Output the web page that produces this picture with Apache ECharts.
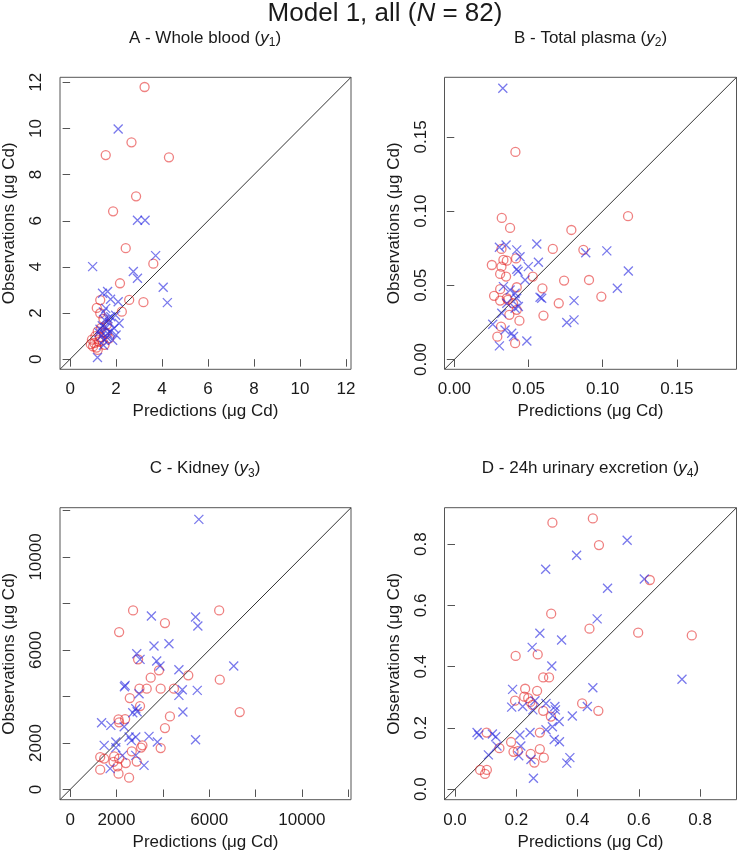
<!DOCTYPE html>
<html><head><meta charset="utf-8">
<script src="https://cdn.jsdelivr.net/npm/echarts@6/dist/echarts.min.js"></script>
<style>html,body{margin:0;padding:0;background:#fff}#c{width:738px;height:853px}</style>
</head><body><div id="c"></div>
<script>
// ---- text ----
const mainTitle = ['Model 1, all (', 'N', ' = 82)'];
const panelTitles = [
  ['A - Whole blood (', 'y', '1', ')'],
  ['B - Total plasma (', 'y', '2', ')'],
  ['C - Kidney (', 'y', '3', ')'],
  ['D - 24h urinary excretion (', 'y', '4', ')']
];
const xLabel = 'Predictions (\u03BCg Cd)';
const yLabel = 'Observations (\u03BCg Cd)';

// ---- axis limits and ticks ----
const limA = [-0.44, 12.22];
const limB = [-0.0066, 0.1902];
const limC = [-440, 12120];
const limD = [-0.0343, 0.919];
const ticksA = [0, 2, 4, 6, 8, 10, 12];
const labelsA = [0, 2, 4, 6, 8, 10, 12];
const ticksB = [0, 0.05, 0.10, 0.15];
const labelsB = [0, 0.05, 0.10, 0.15];
const ticksC = [0, 2000, 4000, 6000, 8000, 10000, 12000];
const labelsC = [0, 2000, 6000, 10000];
const ticksD = [0, 0.2, 0.4, 0.6, 0.8];
const labelsD = [0, 0.2, 0.4, 0.6, 0.8];

// ---- data: [prediction, observation] ----
const aRed = [[3.24,11.8],[2.67,9.4],[1.55,8.85],[4.3,8.75],[2.87,7.06],[1.87,6.41],[2.42,4.81],[3.62,4.14],[2.17,3.29],[2.57,2.57],[3.19,2.47],[1.31,2.56],[1.16,2.22],[1.31,1.99],[2.25,2.06],[1.45,1.75],[1.6,1.5],[1.35,1.35],[1.2,1.2],[1.5,1.15],[1.1,1.0],[1.3,0.95],[0.95,0.85],[1.05,0.7],[1.25,0.75],[1.4,0.8],[1.0,0.55],[1.15,0.5],[1.5,0.62],[1.7,0.9],[0.9,0.65],[1.2,0.4],[1.6,1.1]];
const aBlue = [[2.09,9.98],[2.93,6.02],[3.26,6.02],[3.72,4.49],[0.98,4.01],[2.75,3.80],[2.93,3.51],[4.05,3.12],[4.23,2.45],[1.41,2.86],[1.63,2.93],[1.76,2.6],[2.09,2.49],[1.45,2.05],[1.77,1.84],[1.98,1.9],[2.13,1.56],[1.91,1.34],[1.63,1.12],[1.85,0.82],[1.48,0.82],[1.35,1.0],[1.55,1.35],[1.7,1.6],[1.4,1.45],[1.25,1.15],[1.6,0.95],[1.5,1.7],[1.3,1.3],[1.19,0.07],[1.75,1.2],[1.45,0.6],[1.55,2.2],[2.0,1.05],[1.65,1.75]];
const bRed = [[0.0412,0.1399],[0.0320,0.0954],[0.0376,0.0887],[0.0789,0.0873],[0.1171,0.0966],[0.0664,0.0745],[0.0870,0.0739],[0.0318,0.0745],[0.0331,0.0671],[0.0354,0.0666],[0.0416,0.0681],[0.0253,0.0637],[0.0318,0.0626],[0.0309,0.0577],[0.0349,0.0559],[0.0529,0.0559],[0.0740,0.0532],[0.0908,0.0536],[0.0594,0.0480],[0.0309,0.0474],[0.0421,0.0487],[0.0268,0.0429],[0.0309,0.0397],[0.0354,0.0413],[0.0361,0.0402],[0.0991,0.0424],[0.0704,0.0379],[0.0421,0.0335],[0.0371,0.0301],[0.0601,0.0296],[0.0439,0.0262],[0.0315,0.0222],[0.0290,0.0154],[0.0410,0.0110],[0.0396,0.0379]];
const bBlue = [[0.0327,0.1828],[0.0304,0.0757],[0.0349,0.0772],[0.0421,0.0739],[0.0556,0.0779],[0.0443,0.0693],[0.0567,0.0656],[0.0499,0.0626],[0.0421,0.0608],[0.0430,0.0595],[0.0886,0.0720],[0.1028,0.0732],[0.1173,0.0597],[0.1099,0.0480],[0.0477,0.0536],[0.0578,0.0420],[0.0807,0.0397],[0.0758,0.0249],[0.0807,0.0267],[0.0489,0.0125],[0.0304,0.0092],[0.0259,0.0238],[0.0320,0.0312],[0.0387,0.0177],[0.0399,0.0155],[0.0410,0.0346],[0.0432,0.0357],[0.0376,0.0469],[0.0410,0.0447],[0.0354,0.0379],[0.0342,0.0199],[0.0421,0.0413],[0.0331,0.0491],[0.0589,0.0413]];
const cRed = [[2714,7703],[6430,7703],[4090,7157],[2112,6770],[2930,5596],[3832,5123],[3475,4809],[5097,4908],[6456,4723],[2989,4335],[3303,4335],[3905,4335],[4477,4335],[2572,3931],[3015,3587],[7316,3329],[4305,3144],[2086,3015],[2370,3029],[2112,2890],[4090,2641],[3118,1897],[3058,1800],[3905,1781],[2658,1639],[1295,1394],[1467,1330],[1897,1420],[2112,1330],[1870,1187],[2400,1136],[2872,1200],[2043,994],[1295,852],[2086,680],[2542,508]];
const cBlue = [[5553,11617],[3505,7458],[5411,7415],[5510,7028],[3617,6168],[4262,6271],[2873,5841],[3015,5596],[3733,5523],[3875,5308],[7058,5308],[4692,5153],[2370,4477],[2340,4420],[4839,4292],[5484,4262],[4692,4047],[2972,4120],[2830,3475],[2890,3340],[2700,3300],[4865,3329],[1355,2873],[1755,2757],[2330,2700],[2542,2254],[2830,2254],[3402,2284],[3763,2039],[5411,2142],[1467,1897],[1970,2039],[2258,1467],[2830,1467],[3187,1037],[1725,895],[2640,2100],[1970,1800]];
const dRed = [[0.450,0.884],[0.318,0.870],[0.470,0.797],[0.636,0.683],[0.314,0.573],[0.439,0.524],[0.598,0.511],[0.773,0.502],[0.198,0.435],[0.270,0.440],[0.288,0.365],[0.307,0.365],[0.229,0.328],[0.268,0.321],[0.226,0.302],[0.239,0.297],[0.196,0.289],[0.246,0.285],[0.253,0.275],[0.415,0.280],[0.468,0.256],[0.288,0.256],[0.313,0.237],[0.103,0.185],[0.277,0.185],[0.183,0.154],[0.145,0.134],[0.191,0.122],[0.205,0.124],[0.277,0.131],[0.247,0.115],[0.290,0.103],[0.259,0.087],[0.082,0.063],[0.104,0.063],[0.098,0.050]];
const dBlue = [[0.562,0.813],[0.397,0.764],[0.296,0.718],[0.618,0.686],[0.498,0.656],[0.464,0.556],[0.277,0.509],[0.348,0.487],[0.252,0.463],[0.316,0.402],[0.741,0.359],[0.450,0.331],[0.188,0.326],[0.185,0.268],[0.221,0.270],[0.261,0.289],[0.297,0.280],[0.326,0.270],[0.328,0.259],[0.432,0.270],[0.254,0.259],[0.319,0.240],[0.383,0.239],[0.340,0.221],[0.318,0.204],[0.297,0.194],[0.245,0.185],[0.212,0.177],[0.078,0.177],[0.122,0.180],[0.133,0.171],[0.324,0.162],[0.341,0.155],[0.072,0.185],[0.215,0.141],[0.137,0.141],[0.109,0.112],[0.208,0.109],[0.248,0.097],[0.375,0.103],[0.365,0.085],[0.256,0.036]];

// ---- build ----
const panels = [
  {lim: limA, ticks: ticksA, labels: labelsA, red: aRed, blue: aBlue, fmt: v => String(v)},
  {lim: limB, ticks: ticksB, labels: labelsB, red: bRed, blue: bBlue, fmt: v => v.toFixed(2)},
  {lim: limC, ticks: ticksC, labels: labelsC, red: cRed, blue: cBlue, fmt: v => String(Math.round(v))},
  {lim: limD, ticks: ticksD, labels: labelsD, red: dRed, blue: dBlue, fmt: v => v.toFixed(1)}
];
const boxLeft = [59, 444.5, 59, 444.5];
const boxTop = [77.3, 77.3, 507.7, 507.7];
const boxSize = 292;
const FONT = 'Liberation Sans, Arial, Helvetica, sans-serif';
const TXT = '#1a1a1a';
const AX = '#555';
const RED = 'rgba(228,45,45,0.75)';
const BLUE = 'rgba(40,40,225,0.78)';
const CROSS = 'path://M0,0L10,10M10,0L0,10';

const grid = [], xAxis = [], yAxis = [], series = [], graphic = [];
panels.forEach((p, i) => {
  grid.push({left: boxLeft[i], top: boxTop[i], width: boxSize, height: boxSize,
    show: true, borderColor: AX, borderWidth: 1, backgroundColor: 'transparent'});
  const common = {
    type: 'value', gridIndex: i, min: p.lim[0], max: p.lim[1],
    splitLine: {show: false}, axisLine: {show: false},
    axisTick: {show: true, inside: false, length: 7.5, lineStyle: {color: AX, width: 1}, customValues: p.ticks},
    nameTextStyle: {fontFamily: FONT, fontSize: 17, color: TXT},
    nameLocation: 'middle'
  };
  xAxis.push(Object.assign({}, common, {
    position: 'bottom', name: xLabel, nameGap: 34,
    axisLabel: {customValues: p.labels, formatter: p.fmt, margin: 12, fontFamily: FONT, fontSize: 17, color: TXT}
  }));
  yAxis.push(Object.assign({}, common, {
    position: 'left', name: yLabel, nameGap: 42, nameRotate: 90,
    axisLabel: {customValues: p.labels, formatter: p.fmt, margin: 15, rotate: 90, fontFamily: FONT, fontSize: 17, color: TXT}
  }));
  series.push({type: 'line', xAxisIndex: i, yAxisIndex: i, data: [[p.lim[0], p.lim[0]], [p.lim[1], p.lim[1]]],
    symbol: 'none', silent: true, lineStyle: {color: '#333', width: 1}, z: 1});
  series.push({type: 'scatter', xAxisIndex: i, yAxisIndex: i, data: p.red, symbol: 'circle', symbolSize: 9,
    itemStyle: {color: 'rgba(0,0,0,0)', borderColor: RED, borderWidth: 1.3}, z: 3});
  series.push({type: 'scatter', xAxisIndex: i, yAxisIndex: i, data: p.blue, symbol: CROSS, symbolSize: 9,
    itemStyle: {color: 'rgba(0,0,0,0)', borderColor: BLUE, borderWidth: 1.3}, z: 4});
  const t = panelTitles[i];
  graphic.push({type: 'text', x: boxLeft[i] + boxSize / 2, y: boxTop[i] - 39,
    style: {text: '{t|' + t[0] + '}{i|' + t[1] + '}{s|' + t[2] + '}{t|' + t[3] + '}',
      align: 'center', verticalAlign: 'middle',
      rich: {
        t: {fontFamily: FONT, fontSize: 17, fill: TXT},
        i: {fontFamily: FONT, fontSize: 17, fontStyle: 'italic', fill: TXT},
        s: {fontFamily: FONT, fontSize: 12, fill: TXT, padding: [9, 0, 0, 0]}
      }}});
});
graphic.push({type: 'text', x: 385, y: 14,
  style: {text: '{t|' + mainTitle[0] + '}{i|' + mainTitle[1] + '}{t|' + mainTitle[2] + '}',
    align: 'center', verticalAlign: 'middle',
    rich: {
      t: {fontFamily: FONT, fontSize: 26, fill: TXT},
      i: {fontFamily: FONT, fontSize: 26, fontStyle: 'italic', fill: TXT}
    }}});

const chart = echarts.init(document.getElementById('c'), null, {renderer: 'canvas'});
chart.setOption({animation: false, backgroundColor: '#fff', grid, xAxis, yAxis, series, graphic});
</script></body></html>
